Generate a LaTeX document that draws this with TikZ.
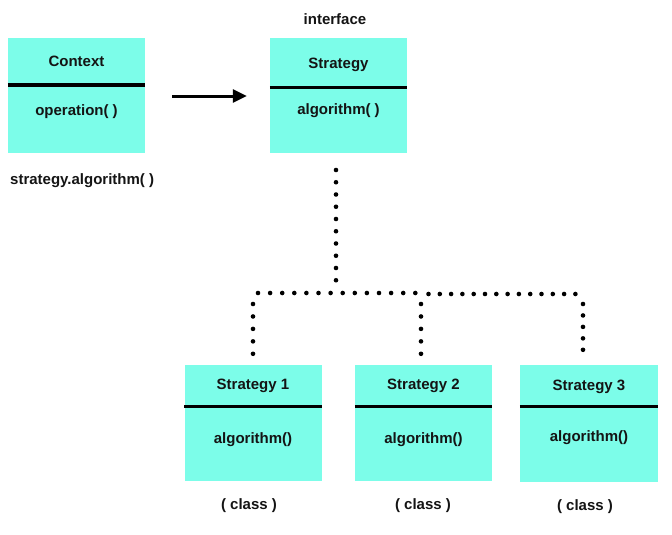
\documentclass[tikz,border=0pt]{standalone}
\usepackage{fontspec}
\setmainfont{Liberation Sans}
\usetikzlibrary{arrows.meta}
\definecolor{boxcyan}{RGB}{124,253,233}
\definecolor{txt}{RGB}{20,20,20}
\tikzset{
  umlbox/.style={fill=boxcyan, draw=none, minimum width=137pt, minimum height=115pt, inner sep=0pt},
  divider/.style={line width=3pt, black},
  lbl/.style={font=\fontsize{15}{17}\selectfont\bfseries, text=txt, inner sep=0pt, anchor=center, yshift=-1pt},
  dotline/.style={line width=4.6pt, line cap=round, dash pattern=on 0pt off 12.3pt},
  assoc/.style={line width=3pt, -{Triangle[length=14pt,width=13pt]}}
}
\begin{document}
\begin{tikzpicture}[x=1pt,y=-1pt]
\useasboundingbox (0,0) rectangle (672,535);
% top boxes
\node[umlbox] (ctx) at (76.5,95.5) {};
\node[umlbox] (str) at (338.5,95.5) {};
\draw[divider] (ctx.west |- 0,85) -- (ctx.east |- 0,85);
\draw[divider] (str.west |- 0,87) -- (str.east |- 0,87);
\node[lbl] (ctxT) at (76.5,60) {Context};
\node[lbl] (ctxO) at (76.5,111) {operation( )};
\node[lbl] (strT) at (338.5,64) {Strategy};
\node[lbl] (strO) at (338.5,110) {algorithm( )};
\node[lbl] (iface) at (335,18) {interface};
\node[lbl, anchor=west] (call) at (10,180) {strategy.algorithm( )};
\draw[assoc] ([xshift=27pt]ctx.east |- 0,96) -- ([xshift=-23pt]str.west |- 0,96);
% bottom boxes
\node[umlbox, minimum height=116pt] (s1) at (253,423) {};
\node[umlbox, minimum height=116pt] (s2) at (423.5,423) {};
\node[umlbox, minimum width=138pt, minimum height=117pt] (s3) at (589,423.5) {};
\draw[divider] (s1.west |- 0,406) -- (s1.east |- 0,406);
\draw[divider] (s2.west |- 0,406) -- (s2.east |- 0,406);
\draw[divider] (s3.west |- 0,406) -- (s3.east |- 0,406);
\node[lbl] (s1T) at (253,385) {Strategy 1};
\node[lbl] (s2T) at (423.5,385) {Strategy 2};
\node[lbl] (s3T) at (589,386) {Strategy 3};
\node[lbl] (s1O) at (253,439) {algorithm()};
\node[lbl] (s2O) at (423.5,439) {algorithm()};
\node[lbl] (s3O) at (589,437) {algorithm()};
\node[lbl] (s1C) at (249,505) {( class )};
\node[lbl] (s2C) at (423,505) {( class )};
\node[lbl] (s3C) at (585,506) {( class )};
% dotted connectors
\coordinate (v0) at (336,170);
\coordinate (v1) at (336,281);
\coordinate (h0) at (258,293);
\coordinate (h1) at (416,293);
\coordinate (h2) at (428.5,294);
\coordinate (h3) at (576,294);
\coordinate (a0) at (253,304);
\coordinate (a1) at (253,354);
\coordinate (b0) at (421,304);
\coordinate (b1) at (421,354);
\coordinate (c0) at (583,304);
\coordinate (c1) at (583,350);
\draw[dotline, dash pattern=on 0pt off 12.25pt] (v0) -- (v1);
\draw[dotline, dash pattern=on 0pt off 12.1pt] (h0) -- (h1);
\draw[dotline, dash pattern=on 0pt off 11.3pt] (h2) -- (h3);
\draw[dotline, dash pattern=on 0pt off 12.45pt] (a0) -- (a1);
\draw[dotline, dash pattern=on 0pt off 12.45pt] (b0) -- (b1);
\draw[dotline, dash pattern=on 0pt off 11.45pt] (c0) -- (c1);
\end{tikzpicture}
\end{document}
